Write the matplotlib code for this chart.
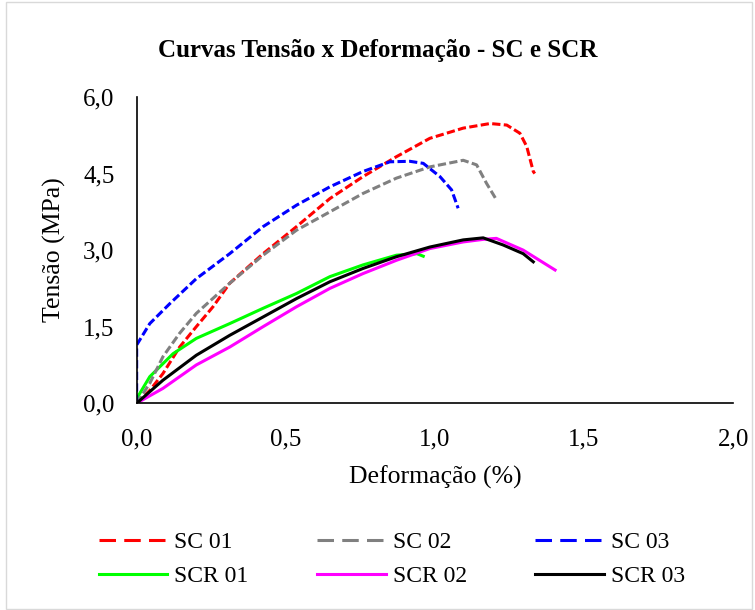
import numpy as np
import matplotlib.pyplot as plt
from matplotlib.ticker import FuncFormatter
from matplotlib.patches import Rectangle
from matplotlib.lines import Line2D

# valores (deformacao %, tensao MPa)
sc01_x = [0.0, 0.044, 0.088, 0.144, 0.20, 0.256, 0.312, 0.424, 0.536, 0.648, 0.759, 0.871, 0.983, 1.095, 1.185, 1.241, 1.285, 1.308, 1.330, 1.335]
sc01_y = [0.0, 0.25, 0.58, 1.10, 1.50, 1.89, 2.35, 2.93, 3.46, 4.01, 4.44, 4.83, 5.19, 5.39, 5.48, 5.45, 5.29, 5.03, 4.54, 4.50]

sc02_x = [0.0, 0.044, 0.088, 0.144, 0.20, 0.312, 0.424, 0.536, 0.648, 0.759, 0.871, 0.983, 1.095, 1.140, 1.173, 1.207]
sc02_y = [0.0, 0.39, 0.91, 1.37, 1.76, 2.35, 2.90, 3.39, 3.75, 4.11, 4.41, 4.63, 4.76, 4.67, 4.31, 3.98]

sc03_x = [0.0, 0.0, 0.044, 0.111, 0.20, 0.312, 0.424, 0.536, 0.648, 0.759, 0.849, 0.916, 0.961, 1.017, 1.056, 1.078]
sc03_y = [0.0, 1.14, 1.56, 1.95, 2.44, 2.93, 3.46, 3.88, 4.24, 4.54, 4.73, 4.74, 4.70, 4.44, 4.18, 3.82]

scr01_x = [0.0, 0.044, 0.122, 0.20, 0.312, 0.424, 0.536, 0.648, 0.759, 0.871, 0.94, 0.961]
scr01_y = [0.09, 0.52, 0.97, 1.27, 1.56, 1.86, 2.15, 2.48, 2.71, 2.90, 2.93, 2.88]

scr02_x = [0.0, 0.088, 0.20, 0.312, 0.424, 0.536, 0.648, 0.759, 0.871, 0.983, 1.095, 1.162, 1.206, 1.296, 1.403]
scr02_y = [0.0, 0.29, 0.75, 1.10, 1.50, 1.89, 2.25, 2.54, 2.80, 3.03, 3.16, 3.21, 3.23, 3.00, 2.61]

scr03_x = [0.0, 0.088, 0.20, 0.312, 0.424, 0.536, 0.648, 0.759, 0.871, 0.983, 1.095, 1.162, 1.229, 1.296, 1.330]
scr03_y = [0.0, 0.45, 0.94, 1.33, 1.69, 2.05, 2.38, 2.64, 2.87, 3.06, 3.20, 3.24, 3.10, 2.93, 2.77]

series = [
    ('SC 01', sc01_x, sc01_y, '#ff0000', True),
    ('SCR 01', scr01_x, scr01_y, '#00ff00', False),
    ('SC 02', sc02_x, sc02_y, '#808080', True),
    ('SCR 02', scr02_x, scr02_y, '#ff00ff', False),
    ('SC 03', sc03_x, sc03_y, '#0000ff', True),
    ('SCR 03', scr03_x, scr03_y, '#000000', False),
]

plt.rcParams['font.family'] = ['Liberation Serif', 'DejaVu Serif']

fig = plt.figure(figsize=(7.55, 6.1), dpi=100)
ax = fig.add_axes([0.181, 0.339, 0.790, 0.502])

lw = 2.2
handles = []
for name, xs, ys, cor, tracejado in series:
    if tracejado:
        ax.plot(xs, ys, color=cor, lw=lw, dashes=(2.7, 1.1))
        handles.append(Line2D([], [], color=cor, lw=lw, dashes=(5.4, 2.7)))
    else:
        ax.plot(xs, ys, color=cor, lw=lw)
        handles.append(Line2D([], [], color=cor, lw=lw))

ax.set_xlim(0, 2.0)
ax.set_ylim(0, 6.0)
ax.set_xticks([0, 0.5, 1.0, 1.5, 2.0])
ax.set_yticks([0, 1.5, 3.0, 4.5, 6.0])
fmt = FuncFormatter(lambda v, p: ('%.1f' % v).replace('.', ','))
ax.xaxis.set_major_formatter(fmt)
ax.yaxis.set_major_formatter(fmt)
ax.tick_params(length=0, labelsize=18)
ax.tick_params(axis='x', pad=18)
ax.tick_params(axis='y', pad=16)
for s in ['top', 'right']:
    ax.spines[s].set_visible(False)
for s in ['left', 'bottom']:
    ax.spines[s].set_linewidth(1.2)

ax.set_xlabel('Deformação (%)', fontsize=18.5, labelpad=11)
ax.set_ylabel('Tensão (MPa)', fontsize=18.5, labelpad=12)
fig.text(0.5, 0.918, 'Curvas Tensão x Deformação - SC e SCR', ha='center', va='center',
         fontsize=18, fontweight='bold')

fig.legend(handles, [s[0] for s in series], loc='center', bbox_to_anchor=(0.519, 0.083),
           ncol=3, frameon=False, fontsize=17, handlelength=2.9, handletextpad=0.3,
           columnspacing=2.9, labelspacing=0.5, borderpad=0)

fig.patches.append(Rectangle((0.008, 0.002), 0.988, 0.995, transform=fig.transFigure,
                             fill=False, edgecolor='#d9d9d9', lw=1))

fig.savefig('out.png', dpi=100)
